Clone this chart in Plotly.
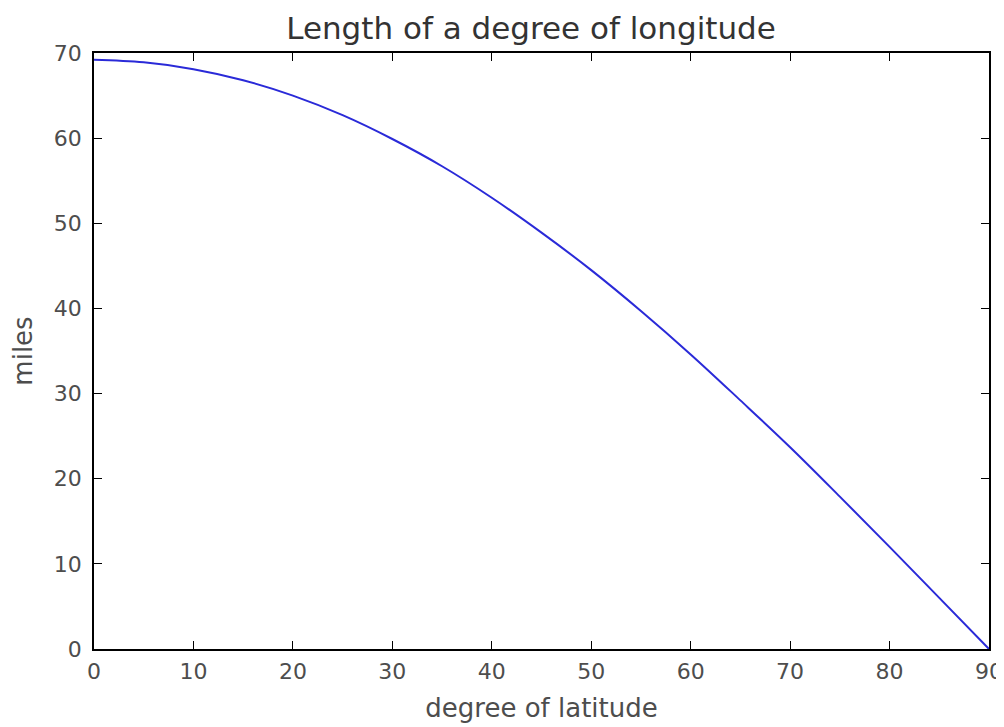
import plotly.graph_objects as go

latitude = [0, 5, 10, 15, 20, 25, 30, 35, 40, 45, 50, 55, 60, 65, 70, 75, 80, 85, 90]
miles = [69.2, 68.9, 68.1, 66.8, 65.0, 62.7, 59.9, 56.7, 53.0, 48.9,
         44.5, 39.7, 34.6, 29.2, 23.7, 17.9, 12.0, 6.0, 0.0]

x_ticks = [0, 10, 20, 30, 40, 50, 60, 70, 80, 90]
y_ticks = [0, 10, 20, 30, 40, 50, 60, 70]

W, H = 996, 719  # page body has an 8px margin

fig = go.Figure()
fig.add_trace(go.Scatter(x=latitude, y=miles, mode="lines",
                         line=dict(color="#2a2ad8", width=2, shape="spline"),
                         showlegend=False))

font_color = "#4d4d4d"
axis_common = dict(showgrid=False, zeroline=False, showline=True, linecolor="black",
                   linewidth=1.5, mirror="ticks", ticks="inside", ticklen=8,
                   tickcolor="black", tickwidth=1, automargin=False,
                   tickfont=dict(family="DejaVu Sans", size=22, color=font_color))

fig.update_layout(
    width=W, height=H,
    margin=dict(l=86, r=15, t=45, b=78),
    paper_bgcolor="white", plot_bgcolor="white",
    title=dict(text="Length of a degree of longitude", x=(531 - 8) / W, xanchor="center",
               y=1 - (28 - 8) / H, yanchor="middle",
               font=dict(family="DejaVu Sans", size=31, color="#333333")),
    xaxis=dict(range=[0, 90], tickvals=x_ticks, ticklabelstandoff=2,
               title=dict(text="degree of latitude", standoff=16,
                          font=dict(family="DejaVu Sans", size=26, color=font_color)),
               **axis_common),
    yaxis=dict(range=[0, 70], tickvals=y_ticks, ticklabelstandoff=6,
               title=dict(text="miles", standoff=22,
                          font=dict(family="DejaVu Sans", size=26, color=font_color)),
               **axis_common),
)

fig.write_html("out.html")
